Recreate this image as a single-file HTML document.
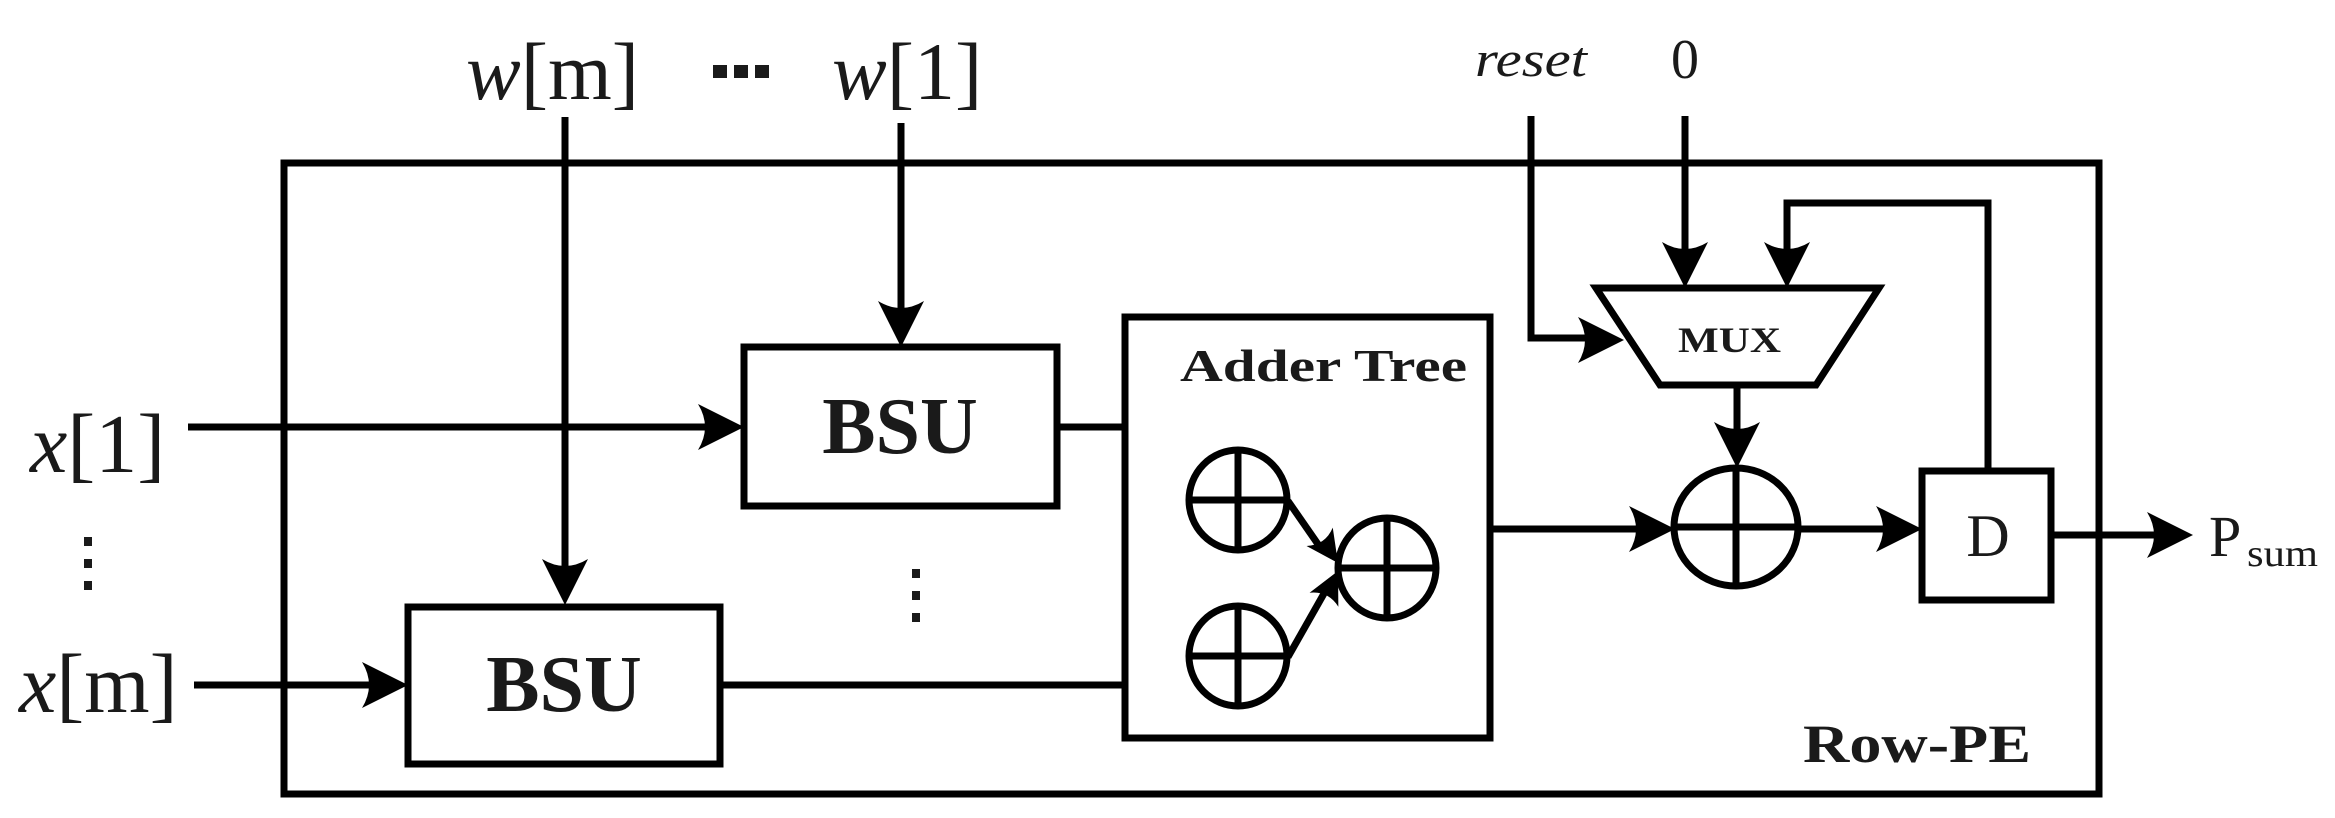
<!DOCTYPE html>
<html><head><meta charset="utf-8"><style>
html,body{margin:0;padding:0;background:#fff;}
svg{display:block;}
text{font-family:"Liberation Serif",serif;fill:#1a1a1a;}
</style></head><body>
<svg width="2335" height="818" viewBox="0 0 2335 818" xmlns="http://www.w3.org/2000/svg">
<defs>
<path id="ah" d="M0,0 L-46,-23 Q-32,0 -46,23 Z" fill="#000"/>
<path id="as" d="M0,0 L-32,-16 Q-22,0 -32,16 Z" fill="#000"/>
</defs>
<g stroke="#000" stroke-width="7" fill="none">
<rect x="284" y="163" width="1815" height="631"/>
<rect x="744" y="347" width="313" height="159"/>
<rect x="408" y="607" width="312" height="157"/>
<rect x="1125" y="317" width="365" height="421"/>
<rect x="1922" y="471" width="129" height="129"/>
<polygon points="1596,288 1879,288 1816,385 1660,385"/>
<line x1="565" y1="117" x2="565" y2="590"/>
<line x1="901" y1="123" x2="901" y2="332"/>
<line x1="188" y1="427" x2="730" y2="427"/>
<line x1="194" y1="685" x2="395" y2="685"/>
<line x1="1057" y1="427" x2="1125" y2="427"/>
<line x1="720" y1="685" x2="1125" y2="685"/>
<ellipse cx="1238" cy="500" rx="49" ry="50"/>
<line x1="1189" y1="500" x2="1287" y2="500"/><line x1="1238" y1="450" x2="1238" y2="550"/>
<ellipse cx="1238" cy="656" rx="49" ry="50"/>
<line x1="1189" y1="656" x2="1287" y2="656"/><line x1="1238" y1="606" x2="1238" y2="706"/>
<ellipse cx="1387" cy="568" rx="49" ry="50"/>
<line x1="1338" y1="568" x2="1436" y2="568"/><line x1="1387" y1="518" x2="1387" y2="618"/>
<line x1="1288" y1="501" x2="1322" y2="550"/>
<line x1="1288" y1="657" x2="1326" y2="590"/>
<line x1="1490" y1="529" x2="1660" y2="529"/>
<ellipse cx="1736" cy="527" rx="62" ry="59"/>
<line x1="1674" y1="527" x2="1798" y2="527"/><line x1="1736" y1="468" x2="1736" y2="586"/>
<line x1="1798" y1="529" x2="1906" y2="529"/>
<line x1="1737" y1="385" x2="1737" y2="452"/>
<polyline points="1531,116 1531,338 1608,338"/>
<line x1="1685" y1="116" x2="1685" y2="272"/>
<polyline points="1988,471 1988,203 1787,203 1787,272"/>
<line x1="2051" y1="535" x2="2178" y2="535"/>
</g>
<use href="#ah" transform="translate(565,605) rotate(90)"/>
<use href="#ah" transform="translate(901,347) rotate(90)"/>
<use href="#ah" transform="translate(744,427)"/>
<use href="#ah" transform="translate(408,685)"/>
<use href="#ah" transform="translate(1675,529)"/>
<use href="#ah" transform="translate(1922,529)"/>
<use href="#ah" transform="translate(1737,468) rotate(90)"/>
<use href="#ah" transform="translate(1624,340)"/>
<use href="#ah" transform="translate(1685,288) rotate(90)"/>
<use href="#ah" transform="translate(1787,288) rotate(90)"/>
<use href="#ah" transform="translate(2193,535)"/>
<use href="#as" transform="translate(1338,563) rotate(55)"/>
<use href="#as" transform="translate(1338,571) rotate(-64)"/>
<text x="466" y="99" font-size="82"><tspan font-style="italic">w</tspan>[m]</text>
<text x="832" y="99" font-size="82"><tspan font-style="italic">w</tspan>[1]</text>
<text x="30" y="472" font-size="84"><tspan font-style="italic">x</tspan>[1]</text>
<text x="19" y="712" font-size="84"><tspan font-style="italic">x</tspan>[m]</text>
<g fill="#1a1a1a">
<rect x="713" y="65" width="14" height="13"/><rect x="734" y="65" width="14" height="13"/><rect x="755" y="65" width="14" height="13"/>
<rect x="84" y="537" width="8" height="9"/><rect x="84" y="559" width="8" height="9"/><rect x="84" y="581" width="8" height="9"/>
<rect x="912" y="569" width="8" height="9"/><rect x="912" y="591" width="8" height="9"/><rect x="912" y="613" width="8" height="9"/>
</g>
<text x="900" y="453" font-size="80" font-weight="bold" text-anchor="middle">BSU</text>
<text x="564" y="711" font-size="80" font-weight="bold" text-anchor="middle">BSU</text>
<text x="1180" y="381" font-size="45" font-weight="bold" textLength="287" lengthAdjust="spacingAndGlyphs">Adder Tree</text>
<text x="1678" y="352" font-size="36" font-weight="bold" textLength="103" lengthAdjust="spacingAndGlyphs">MUX</text>
<text x="1988" y="556" font-size="60" text-anchor="middle">D</text>
<text x="2209" y="556" font-size="58">P</text>
<text x="2247" y="566" font-size="38" textLength="71" lengthAdjust="spacingAndGlyphs">sum</text>
<text x="1475" y="76" font-size="50" font-style="italic" textLength="112" lengthAdjust="spacingAndGlyphs">reset</text>
<text x="1671" y="78" font-size="56">0</text>
<text x="1803" y="762" font-size="54" font-weight="bold" textLength="228" lengthAdjust="spacingAndGlyphs">Row-PE</text>
</svg>
</body></html>
